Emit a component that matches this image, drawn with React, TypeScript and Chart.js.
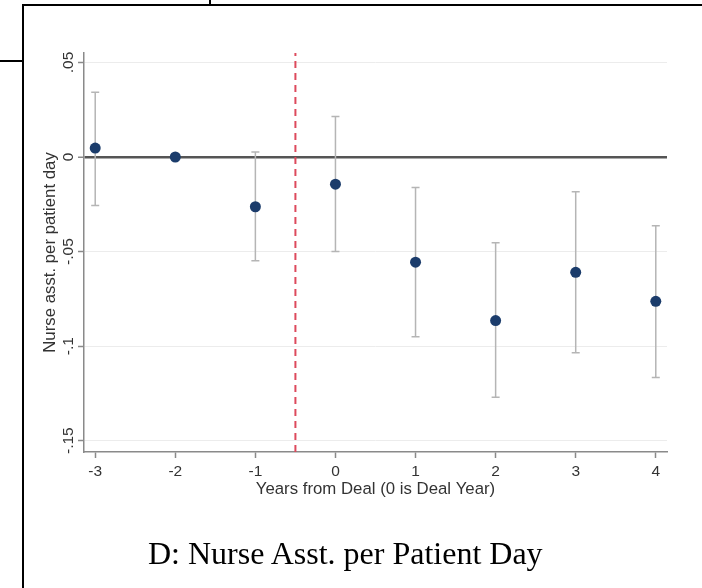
import React, { useEffect, useRef } from 'react';
import { Chart, registerables } from 'chart.js';

Chart.register(...registerables);

// ---- data ----
const years = [-3, -2, -1, 0, 1, 2, 3, 4];
const estimates = [0.0047, 0, -0.0263, -0.0144, -0.0556, -0.0865, -0.061, -0.0763];
const ciLower = [-0.0256, null, -0.0549, -0.05, -0.095, -0.127, -0.1035, -0.1166];
const ciUpper = [0.0342, null, 0.0026, 0.0214, -0.0161, -0.0453, -0.0184, -0.0363];
const dealLineX = -0.5;
const zeroLineY = 0;

const xTicks = [-3, -2, -1, 0, 1, 2, 3, 4];
const xTickLabels = ['-3', '-2', '-1', '0', '1', '2', '3', '4'];
const yTicks = [0.05, 0, -0.05, -0.1, -0.15];
const yTickLabels = ['.05', '0', '-.05', '-.1', '-.15'];

const xRange = [-3.14, 4.14];
const yRange = [-0.156, 0.055];

const yTitle = 'Nurse asst. per patient day';
const xTitle = 'Years from Deal (0 is Deal Year)';
const caption = 'D: Nurse Asst. per Patient Day';

const W = 702;
const H = 588;

const errorBarPlugin = {
  id: 'errorBars',
  beforeDatasetsDraw(chart: any) {
    const { ctx, scales } = chart;
    const x = scales.x;
    const y = scales.y;
    ctx.save();
    ctx.strokeStyle = '#b5b5b5';
    ctx.lineWidth = 1.5;
    years.forEach((yr, i) => {
      const lo = ciLower[i];
      const hi = ciUpper[i];
      if (lo == null || hi == null) return;
      const px = x.getPixelForValue(yr);
      const pLo = y.getPixelForValue(lo);
      const pHi = y.getPixelForValue(hi);
      ctx.beginPath();
      ctx.moveTo(px, pLo);
      ctx.lineTo(px, pHi);
      ctx.moveTo(px - 4, pLo);
      ctx.lineTo(px + 4, pLo);
      ctx.moveTo(px - 4, pHi);
      ctx.lineTo(px + 4, pHi);
      ctx.stroke();
    });
    ctx.restore();
  },
};

function PlotChart() {
  const ref = useRef<HTMLCanvasElement | null>(null);
  useEffect(() => {
    if (!ref.current) return;
    const sans = 'Liberation Sans, Arial, sans-serif';
    const chart = new Chart(ref.current, {
      type: 'scatter',
      data: {
        datasets: [
          {
            type: 'line',
            data: [
              { x: dealLineX, y: yRange[0] },
              { x: dealLineX, y: yRange[1] },
            ],
            borderColor: '#dd4a5c',
            borderWidth: 2,
            borderDash: [7, 5],
            pointRadius: 0,
            fill: false,
            order: 2,
          } as any,
          {
            data: years.map((yr, i) => ({ x: yr, y: estimates[i] })),
            backgroundColor: '#1b3c6b',
            borderWidth: 0,
            pointRadius: 5.5,
            order: 1,
          },
        ],
      },
      options: {
        responsive: false,
        animation: false,
        devicePixelRatio: 1,
        layout: { padding: { top: 53, right: 35, bottom: 89, left: 0 } },
        plugins: { legend: { display: false }, tooltip: { enabled: false } },
        scales: {
          x: {
            type: 'linear',
            position: 'bottom',
            min: xRange[0],
            max: xRange[1],
            afterBuildTicks: (s: any) => {
              s.ticks = xTicks.map((v) => ({ value: v }));
            },
            afterFit: (s: any) => {
              s.height = 47;
            },
            ticks: {
              callback: (v: any) => xTickLabels[xTicks.indexOf(Number(v))] ?? '',
              font: { family: sans, size: 15.5 },
              color: '#333',
              padding: 4,
            },
            grid: {
              drawOnChartArea: false,
              drawTicks: true,
              tickLength: 6,
              tickColor: '#8a8a8a',
              tickWidth: 1.5,
            },
            border: { color: '#8a8a8a', width: 1.5 },
            title: {
              display: true,
              text: xTitle,
              font: { family: sans, size: 16.8 },
              color: '#333',
              padding: { top: 0, bottom: 0 },
            },
          },
          y: {
            type: 'linear',
            min: yRange[0],
            max: yRange[1],
            afterBuildTicks: (s: any) => {
              s.ticks = yTicks.map((v) => ({ value: v }));
            },
            afterFit: (s: any) => {
              s.width = 84;
            },
            ticks: {
              callback: (v: any) => {
                const idx = yTicks.findIndex((t) => Math.abs(t - Number(v)) < 1e-9);
                return idx >= 0 ? yTickLabels[idx] : '';
              },
              minRotation: 90,
              maxRotation: 90,
              crossAlign: 'center',
              font: { family: sans, size: 15.5 },
              color: '#333',
              padding: -4,
            },
            grid: {
              color: (c: any) => (c.tick && Math.abs(c.tick.value - zeroLineY) < 1e-9 ? '#555' : '#ececec'),
              lineWidth: (c: any) => (c.tick && Math.abs(c.tick.value - zeroLineY) < 1e-9 ? 2.5 : 1),
              drawTicks: true,
              tickLength: 6,
              tickColor: '#8a8a8a',
              tickWidth: 1.5,
            },
            border: { color: '#8a8a8a', width: 1.5 },
            title: {
              display: true,
              text: yTitle,
              font: { family: sans, size: 16.8 },
              color: '#333',
              padding: { top: 40, bottom: 0 },
            },
          },
        },
      } as any,
      plugins: [errorBarPlugin],
    });
    return () => chart.destroy();
  }, []);
  return <canvas ref={ref} width={W} height={H} style={{ display: 'block', width: W, height: H }} />;
}

export default function App() {
  return (
    <div
      style={{
        position: 'fixed',
        left: 0,
        top: 0,
        width: W,
        height: H,
        background: '#fff',
        overflow: 'hidden',
      }}
    >
      <PlotChart />
      {/* page frame */}
      <div style={{ position: 'absolute', left: 22, top: 4, width: W - 22, height: 2, background: '#000' }} />
      <div style={{ position: 'absolute', left: 22, top: 4, width: 2, height: H - 4, background: '#000' }} />
      <div style={{ position: 'absolute', left: 0, top: 60, width: 23, height: 2, background: '#000' }} />
      <div style={{ position: 'absolute', left: 209, top: 0, width: 2, height: 5, background: '#000' }} />
      <div
        style={{
          position: 'absolute',
          left: 148,
          top: 537,
          fontFamily: '"Liberation Serif", "Times New Roman", serif',
          fontSize: 32,
          lineHeight: 1,
          whiteSpace: 'pre',
          color: '#000',
        }}
      >
        {caption}
      </div>
    </div>
  );
}
